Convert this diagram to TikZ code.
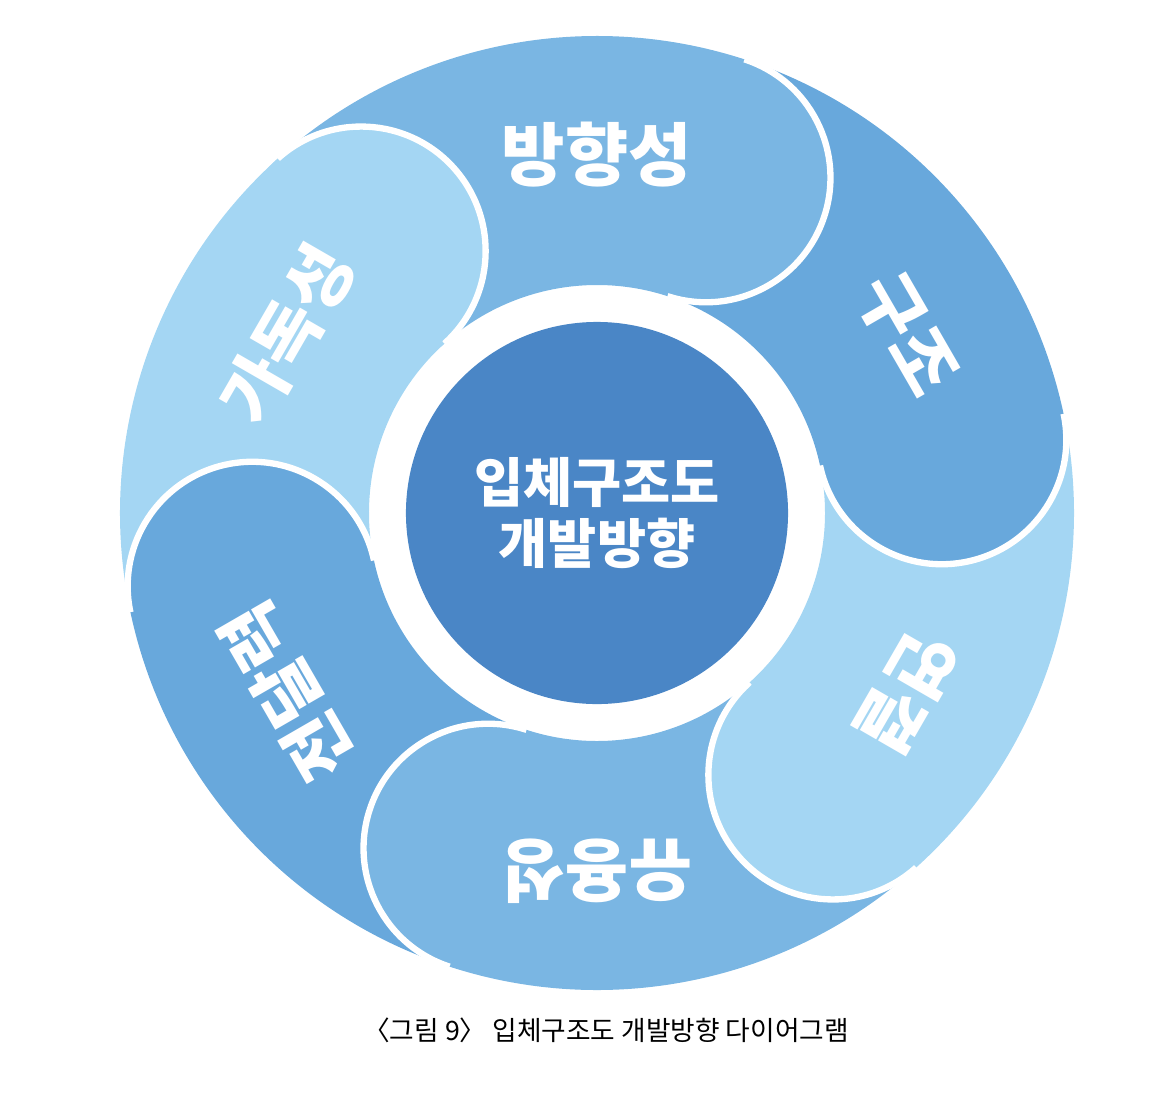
\documentclass[tikz,border=0pt]{standalone}
\usepackage{fontspec}
\setmainfont{Noto Sans CJK KR}
\usepackage{tikz}

\definecolor{segmid}{RGB}{122,182,227}
\definecolor{segdark}{RGB}{104,168,220}
\definecolor{seglight}{RGB}{164,214,243}
\definecolor{coreblue}{RGB}{74,134,198}

\tikzset{
  seglabel/.style={text=white, inner sep=0pt,
    font=\fontsize{49}{49}\selectfont\bfseries},
  capline/.style={draw=white, line width=4.5pt},
}

\begin{document}
\begin{tikzpicture}[x=0.025cm,y=0.025cm]
\useasboundingbox (-597,-586) rectangle (564,513);
\foreach \c/\col in {132/seglight,192/segdark,252/segmid,312/seglight,372/segdark,432/segmid}{
  \fill[\col] ({\c+60}:477) arc[start angle=\c+60, end angle=\c, radius=477]
    arc[start angle=\c, end angle=\c-180, radius=124.5]
    arc[start angle=\c, end angle=\c+60, radius=228] -- cycle;
  \draw[capline] (\c:477) arc[start angle=\c, end angle=\c-180, radius=124.5];
}
\fill[seglight] (132:352.5) circle (124.5);
\draw[capline] (132:477) arc[start angle=132, end angle=-48, radius=124.5];

\node[circle, fill=coreblue, minimum size=9.55cm, inner sep=0pt, text=white,
  align=center, font=\fontsize{38}{44}\selectfont\bfseries] (core) at (0,0)
  {입체구조도\\개발방향};

\node[seglabel] (dirn) at (90:358) {방향성};
\node[seglabel, rotate=-60] (strc) at (30:358) {구조};
\node[seglabel, rotate=-120] (link) at (-30:358) {연결};
\node[seglabel, rotate=180] (usef) at (-90:358) {유용성};
\node[seglabel, rotate=120] (dlvr) at (-150:358) {전달력};
\node[seglabel, rotate=60] (read) at (150:358) {가독성};

\node[font=\fontsize{19}{19}\selectfont] (capt) at (9,-517)
  {〈그림 9〉 입체구조도 개발방향 다이어그램};
\end{tikzpicture}
\end{document}
